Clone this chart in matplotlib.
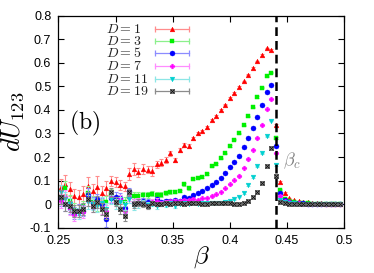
import matplotlib
matplotlib.use("Agg")
import matplotlib.pyplot as plt

plt.rcParams["mathtext.fontset"] = "cm"
plt.rcParams["axes.unicode_minus"] = False
plt.rcParams["font.family"] = ["Liberation Sans", "DejaVu Sans"]

# inverse temperature grid
beta = [0.252, 0.256, 0.260, 0.264, 0.268, 0.272, 0.276, 0.280, 0.284, 0.288,
        0.292, 0.296, 0.300, 0.304, 0.308, 0.312, 0.316, 0.320, 0.324, 0.328,
        0.332, 0.336, 0.340, 0.344, 0.348, 0.352, 0.356, 0.360, 0.364, 0.368,
        0.372, 0.376, 0.380, 0.384, 0.388, 0.392, 0.396, 0.400, 0.404, 0.408,
        0.412, 0.416, 0.420, 0.424, 0.428, 0.432, 0.436, 0.440, 0.444, 0.448,
        0.452, 0.456, 0.460, 0.464, 0.468, 0.472, 0.476, 0.480, 0.484, 0.488,
        0.492, 0.496]
beta_c = 0.4407

du_d1 = [0.073, 0.085, 0.065, 0.035, 0.030, 0.045, 0.077, 0.055, 0.073, 0.046,
         0.068, 0.098, 0.094, 0.082, 0.075, 0.128, 0.150, 0.135, 0.150, 0.147,
         0.141, 0.170, 0.175, 0.187, 0.215, 0.187, 0.230, 0.252, 0.248, 0.280,
         0.300, 0.310, 0.326, 0.357, 0.373, 0.398, 0.423, 0.450, 0.471, 0.497,
         0.521, 0.550, 0.578, 0.606, 0.633, 0.661, 0.654, 0.335, 0.093, 0.047,
         0.025, 0.017, 0.012, 0.009, 0.007, 0.005, 0.004, 0.003, 0.002, 0.002,
         0.001, 0.001]
du_d3 = [0.030, 0.070, 0.015, -0.020, -0.030, -0.010, 0.048, 0.010, 0.000, -0.005,
         0.010, 0.045, 0.015, 0.020, 0.010, 0.030, 0.035, 0.035, 0.038, 0.040,
         0.045, 0.040, 0.040, 0.046, 0.051, 0.053, 0.056, 0.084, 0.067, 0.105,
         0.112, 0.116, 0.127, 0.160, 0.170, 0.195, 0.215, 0.246, 0.274, 0.300,
         0.334, 0.373, 0.411, 0.454, 0.494, 0.542, 0.558, 0.280, 0.061, 0.022,
         0.012, 0.008, 0.005, 0.004, 0.003, 0.002, 0.002, 0.001, 0.001, 0.001,
         0.000, 0.000]
du_d5 = [0.024, 0.000, -0.016, -0.037, -0.023, -0.027, 0.037, 0.005, 0.020, 0.000,
         -0.065, 0.025, 0.030, 0.027, -0.016, 0.055, 0.006, 0.006, 0.015, 0.010,
         0.005, 0.020, 0.010, 0.015, 0.012, 0.016, 0.014, 0.030, 0.025, 0.038,
         0.048, 0.056, 0.070, 0.080, 0.093, 0.112, 0.134, 0.159, 0.180, 0.205,
         0.241, 0.281, 0.323, 0.369, 0.419, 0.476, 0.507, 0.248, 0.047, 0.018,
         0.010, 0.006, 0.004, 0.003, 0.002, 0.002, 0.001, 0.001, 0.001, 0.000,
         0.000, 0.000]
du_d7 = [0.015, 0.030, -0.020, -0.045, -0.030, -0.035, 0.020, -0.010, 0.010, -0.015,
         -0.030, 0.030, 0.010, 0.020, -0.030, 0.030, 0.005, 0.010, 0.005, -0.005,
         0.010, 0.015, 0.005, 0.010, 0.012, 0.015, 0.013, 0.016, 0.018, 0.020,
         0.018, 0.024, 0.027, 0.034, 0.041, 0.053, 0.067, 0.084, 0.101, 0.120,
         0.155, 0.191, 0.231, 0.281, 0.336, 0.402, 0.447, 0.217, 0.035, 0.014,
         0.008, 0.005, 0.003, 0.002, 0.002, 0.001, 0.001, 0.001, 0.000, 0.000,
         0.000, 0.000]
du_d11 = [0.050, 0.020, 0.000, -0.030, -0.040, -0.020, 0.010, 0.000, -0.010, 0.005,
          -0.020, 0.020, 0.000, 0.010, -0.005, 0.020, -0.010, 0.000, 0.005, -0.005,
          0.000, -0.010, 0.000, -0.005, 0.005, -0.010, 0.000, 0.005, 0.000, 0.003,
          0.000, 0.003, 0.005, 0.004, 0.006, 0.006, 0.008, 0.013, 0.020, 0.032,
          0.047, 0.081, 0.115, 0.160, 0.215, 0.288, 0.355, 0.167, 0.017, 0.008,
          0.005, 0.003, 0.002, 0.001, 0.001, 0.001, 0.000, 0.000, 0.000, 0.000,
          0.000, 0.000]
du_d19 = [0.030, 0.000, -0.010, -0.030, -0.030, -0.020, 0.020, -0.010, 0.010, -0.020,
          -0.040, 0.050, 0.010, -0.020, -0.050, 0.050, 0.000, 0.005, 0.000, -0.010,
          0.005, 0.000, 0.000, 0.005, 0.002, 0.003, 0.004, 0.002, 0.005, 0.003,
          0.004, 0.000, 0.002, 0.004, 0.003, 0.003, 0.005, 0.006, 0.002, 0.000,
          0.003, 0.013, 0.030, 0.053, 0.091, 0.160, 0.240, 0.120, 0.007, 0.004,
          0.002, 0.001, 0.001, 0.000, 0.000, 0.000, 0.000, 0.000, 0.000, 0.000,
          0.000, 0.000]

err_d1 = [0.035, 0.040, 0.030, 0.030, 0.030, 0.030, 0.040, 0.030, 0.045, 0.030,
          0.030, 0.020, 0.020, 0.020, 0.020, 0.025, 0.025, 0.020, 0.020, 0.015,
          0.020, 0.015, 0.015, 0.012, 0.012, 0.010, 0.010, 0.008, 0.008, 0.006,
          0.006, 0.005, 0.005, 0.005, 0.004, 0.004, 0.004, 0.004, 0.004, 0.004,
          0.003, 0.003, 0.003, 0.003, 0.003, 0.003, 0.003, 0.004, 0.004, 0.003,
          0.002, 0.002, 0.002, 0.002, 0.002, 0.002, 0.002, 0.002, 0.002, 0.002,
          0.002, 0.002]
err_d3 = [0.030, 0.030, 0.025, 0.025, 0.025, 0.025, 0.030, 0.025, 0.030, 0.025,
          0.025, 0.020, 0.020, 0.020, 0.020, 0.015, 0.015, 0.015, 0.012, 0.012,
          0.010, 0.010, 0.010, 0.008, 0.008, 0.006, 0.006, 0.005, 0.005, 0.004,
          0.004, 0.004, 0.004, 0.003, 0.003, 0.003, 0.003, 0.003, 0.003, 0.003,
          0.003, 0.003, 0.003, 0.003, 0.003, 0.003, 0.003, 0.003, 0.003, 0.002,
          0.002, 0.002, 0.002, 0.002, 0.002, 0.002, 0.002, 0.002, 0.002, 0.002,
          0.002, 0.002]
err_d5 = [0.030, 0.030, 0.025, 0.025, 0.025, 0.025, 0.030, 0.025, 0.025, 0.025,
          0.030, 0.020, 0.020, 0.020, 0.020, 0.015, 0.015, 0.015, 0.012, 0.012,
          0.010, 0.010, 0.008, 0.008, 0.006, 0.006, 0.005, 0.005, 0.004, 0.004,
          0.004, 0.003, 0.003, 0.003, 0.003, 0.003, 0.003, 0.003, 0.003, 0.003,
          0.003, 0.003, 0.003, 0.003, 0.003, 0.003, 0.003, 0.003, 0.003, 0.002,
          0.002, 0.002, 0.002, 0.002, 0.002, 0.002, 0.002, 0.002, 0.002, 0.002,
          0.002, 0.002]
err_d7 = [0.030, 0.030, 0.025, 0.025, 0.025, 0.025, 0.030, 0.025, 0.025, 0.025,
          0.025, 0.020, 0.020, 0.020, 0.020, 0.015, 0.015, 0.015, 0.012, 0.012,
          0.010, 0.010, 0.008, 0.008, 0.006, 0.006, 0.005, 0.005, 0.004, 0.004,
          0.004, 0.003, 0.003, 0.003, 0.003, 0.003, 0.003, 0.003, 0.003, 0.003,
          0.003, 0.003, 0.003, 0.003, 0.003, 0.003, 0.003, 0.003, 0.003, 0.002,
          0.002, 0.002, 0.002, 0.002, 0.002, 0.002, 0.002, 0.002, 0.002, 0.002,
          0.002, 0.002]
err_d11 = [0.030, 0.030, 0.025, 0.025, 0.025, 0.025, 0.030, 0.025, 0.025, 0.025,
           0.025, 0.020, 0.020, 0.020, 0.020, 0.015, 0.015, 0.015, 0.012, 0.012,
           0.010, 0.010, 0.008, 0.008, 0.006, 0.006, 0.005, 0.005, 0.004, 0.004,
           0.004, 0.003, 0.003, 0.003, 0.003, 0.003, 0.003, 0.003, 0.003, 0.003,
           0.003, 0.003, 0.003, 0.003, 0.003, 0.003, 0.003, 0.003, 0.003, 0.002,
           0.002, 0.002, 0.002, 0.002, 0.002, 0.002, 0.002, 0.002, 0.002, 0.002,
           0.002, 0.002]
err_d19 = [0.030, 0.030, 0.025, 0.025, 0.025, 0.025, 0.030, 0.025, 0.025, 0.025,
           0.025, 0.020, 0.020, 0.020, 0.020, 0.015, 0.015, 0.015, 0.012, 0.012,
           0.010, 0.010, 0.008, 0.008, 0.006, 0.006, 0.005, 0.005, 0.004, 0.004,
           0.004, 0.003, 0.003, 0.003, 0.003, 0.003, 0.003, 0.003, 0.003, 0.003,
           0.003, 0.003, 0.003, 0.003, 0.003, 0.003, 0.003, 0.003, 0.003, 0.002,
           0.002, 0.002, 0.002, 0.002, 0.002, 0.002, 0.002, 0.002, 0.002, 0.002,
           0.002, 0.002]

labels = ["$D = 1$", "$D = 3$", "$D = 5$", "$D = 7$", "$D = 11$", "$D = 19$"]
xticks = [0.25, 0.3, 0.35, 0.4, 0.45, 0.5]
xtick_labels = ["0.25", "0.3", "0.35", "0.4", "0.45", "0.5"]
yticks = [-0.1, 0, 0.1, 0.2, 0.3, 0.4, 0.5, 0.6, 0.7, 0.8]
ytick_labels = ["-0.1", "0", "0.1", "0.2", "0.3", "0.4", "0.5", "0.6", "0.7", "0.8"]

# (values, errors, marker colour, errorbar colour, marker, size)
series = [
    (du_d1, err_d1, "#ff0000", "#ff8c8c", "^", 3.4),
    (du_d3, err_d3, "#00f000", "#8cf08c", "s", 3.4),
    (du_d5, err_d5, "#0000ff", "#8c8cff", "o", 3.6),
    (du_d7, err_d7, "#ff00ff", "#ff8cff", "P", 3.4),
    (du_d11, err_d11, "#00d0d0", "#8ce6e6", "v", 3.4),
    (du_d19, err_d19, "#303030", "#8c8c8c", "s", 3.1),
]

fig = plt.figure(figsize=(3.74, 2.73), dpi=100)
ax = fig.add_axes([58.3 / 374, 1 - 227.7 / 273, 286 / 374, 212 / 273])


def draw_marker(ax, x, y, color, marker, ms, **kw):
    if marker == "s" and color == "#303030":
        ax.plot(x, y, ls="none", marker="s", ms=ms, mfc="#b0b0b0", mec="#505050",
                mew=0.5, **kw)
        ax.plot(x, y, ls="none", marker="x", ms=ms * 0.75, mec="#101010",
                mew=0.7, **kw)
    else:
        ax.plot(x, y, ls="none", marker=marker, ms=ms, mfc=color, mec=color,
                mew=0.3, **kw)


for vals, errs, col, ecol, mk, ms in series:
    ax.errorbar(beta, vals, yerr=errs, fmt="none", ecolor=ecol,
                elinewidth=0.8, capsize=1.5, capthick=0.8)
    draw_marker(ax, beta, vals, col, mk, ms)

ax.axvline(beta_c, color="black", lw=1.8, ls=(0, (3.5, 2)))

# gnuplot-style key: text, then a horizontal errorbar sample
key_y = [0.937, 0.879, 0.823, 0.763, 0.703, 0.646]
for (vals, errs, col, ecol, mk, ms), lab, ky in zip(series, labels, key_y):
    ax.text(0.168, ky, lab, transform=ax.transAxes, fontsize=10,
            ha="left", va="center", color="#222222")
    ax.plot([0.338, 0.457], [ky, ky], transform=ax.transAxes, color=ecol, lw=0.9)
    ax.plot([0.338, 0.457], [ky, ky], transform=ax.transAxes, ls="none",
            marker="|", ms=4, mec=ecol, mew=0.9)
    draw_marker(ax, [0.398], [ky], col, mk, ms, transform=ax.transAxes)

ax.text(0.038, 0.49, r"$\mathrm{(b)}$", transform=ax.transAxes, fontsize=17,
        ha="left", va="center")
ax.text(0.4462, 0.185, r"$\beta_c$", fontsize=13, color="#808080",
        ha="left", va="center")

ax.set_xlim(0.25, 0.5)
ax.set_ylim(-0.1, 0.8)
ax.set_xticks(xticks)
ax.set_xticklabels(xtick_labels)
ax.set_yticks(yticks)
ax.set_yticklabels(ytick_labels)
ax.tick_params(direction="in", top=True, right=True, length=4, width=0.8,
               labelsize=9, pad=5)
for sp in ax.spines.values():
    sp.set_linewidth(0.9)

ax.set_xlabel(r"$\beta$", fontsize=18, labelpad=-2)
ax.set_ylabel(r"$dU_{123}$", fontsize=19, labelpad=3)

fig.savefig("out.png", dpi=100)
